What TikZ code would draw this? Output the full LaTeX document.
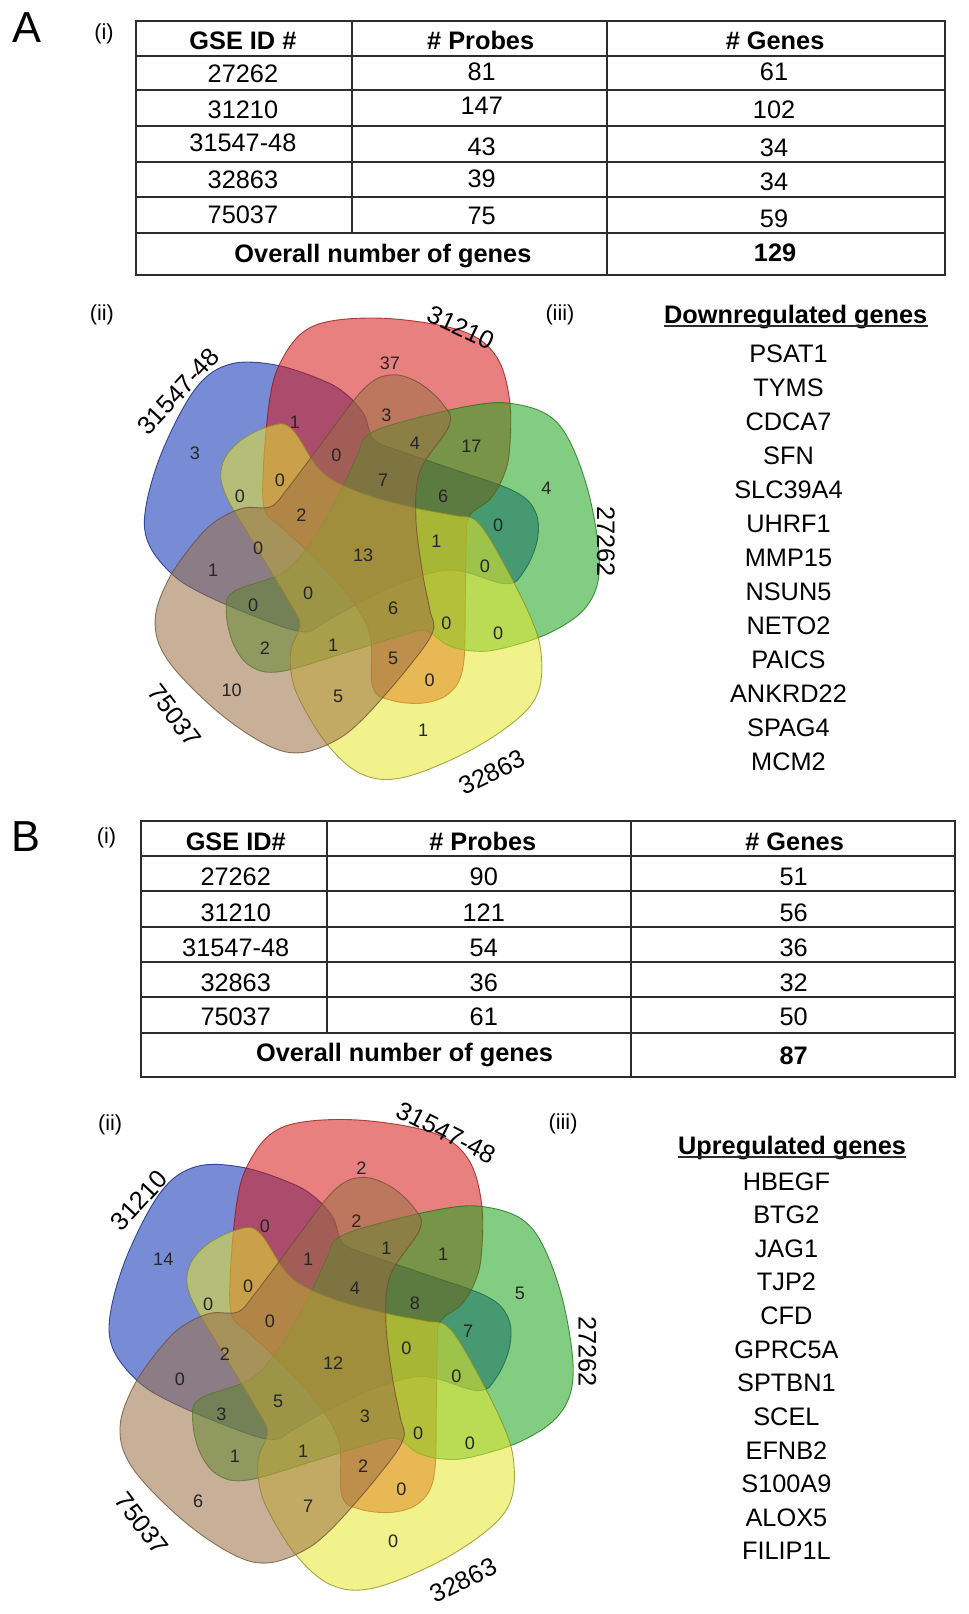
\documentclass[tikz,border=0pt]{standalone}
\usepackage{fontspec}
\setmainfont{Liberation Sans}
\usetikzlibrary{calc,positioning}

\definecolor{setred}{RGB}{213,24,24}
\definecolor{setblue}{RGB}{10,45,180}
\definecolor{setgreen}{RGB}{28,164,28}
\definecolor{setyellow}{RGB}{231,231,46}
\definecolor{setbrown}{RGB}{155,111,68}
\definecolor{rulegray}{RGB}{45,45,45}

\tikzset{
  cell/.style={inner sep=0pt, font=\fontsize{14}{16}\selectfont, text height=10pt, text depth=0pt},
  headcell/.style={cell, font=\fontsize{14}{16}\selectfont\bfseries},
  gene/.style={cell},
  genehead/.style={inner sep=0pt, font=\fontsize{14}{16}\selectfont\bfseries},
  cnt/.style={inner sep=0pt, font=\fontsize{10}{12}\selectfont, text height=7.2pt, text depth=0pt, text=black!85},
  setlabel/.style={cell},
  partlabel/.style={inner sep=0pt, font=\fontsize{12}{14}\selectfont},
  panellabel/.style={inner sep=0pt, font=\fontsize{24}{28}\selectfont, text height=17pt, text depth=0pt},
  tablerule/.style={draw=rulegray, line width=1.1pt},
  petal/.style={fill opacity=0.55, draw opacity=0.75, line width=0.5pt}
}

% one set of the five, lobe on top, arm down through the middle
\newcommand{\petalpath}{plot[smooth cycle, tension=0.6] coordinates {(92,-206) (124,-182) (137,-140) (137,-91) (131,-65) (118,-43) (98,-27) (95,-4) (94,55) (92,119) (79,145) (53,155) (21,152) (4,139) (1,87) (-22,48) (-58,9) (-86,-17) (-101,-33) (-102,-75) (-96,-140) (-86,-175) (-64,-205) (-31,-217) (27,-218)}}

\newcommand{\fivesets}[2]{%
  \begin{scope}[shift={#1}, scale=#2]
    \filldraw[petal, fill=setblue, draw=setblue!70!black, rotate=72] \petalpath;
    \filldraw[petal, fill=setred, draw=setred!70!black] \petalpath;
    \filldraw[petal, fill=setgreen, draw=setgreen!70!black, rotate=-72] \petalpath;
    \filldraw[petal, fill=setyellow, draw=setyellow!60!black, shift={(2,4)}, rotate=-148] \petalpath;
    \filldraw[petal, fill=setbrown, draw=setbrown!70!black, rotate=144] \petalpath;
  \end{scope}}

\begin{document}
\begin{tikzpicture}[x=0.02cm, y=-0.02cm]
  \useasboundingbox (0,0) rectangle (941,1568);

  % ---------------- panel A ----------------
  \node[panellabel] (A) at (26.5,26.5) {A};
  \node[partlabel] (Ai) at (101,33) {(i)};

  % table A
  \draw[tablerule] (132,20) rectangle (918,267);
  \foreach \y in {54,87,122,157,191,226}
    \draw[tablerule] (132,\y) -- (918,\y);
  \draw[tablerule] (342,20) -- (342,226);
  \draw[tablerule] (590,20) -- (590,267);

  \node[headcell] (ta-h1) at (236,39.5) {GSE ID \#};
  \node[headcell] (ta-h2) at (467,39.5) {\# Probes};
  \node[headcell] (ta-h3) at (753,39.5) {\# Genes};
  \foreach \id/\pr/\gn/\y/\yp/\yg [count=\i] in {27262/81/61/71/69/69,
      31210/147/102/106/102/106, 31547-48/43/34/138.6/142/143.5,
      32863/39/34/174/173/176, 75037/75/59/208.5/209.5/212} {
    \node[cell] (ta-id\i) at (236,\y) {\id};
    \node[cell] (ta-pr\i) at (468,\yp) {\pr};
    \node[cell] (ta-gn\i) at (752,\yg) {\gn};
  }
  \node[headcell] (ta-all) at (372,246) {Overall number of genes};
  \node[headcell] (ta-tot) at (753,245) {129};

  % venn A
  \node[partlabel] (Aii) at (99,306) {(ii)};
  \node[partlabel] (Aiii) at (544,306) {(iii)};
  \fivesets{(358,528)}{1}
  \node[setlabel, rotate=-25] (la-31210) at (448,318) {31210};
  \node[setlabel, rotate=47] (la-31547) at (173,380) {31547-48};
  \node[setlabel, rotate=-90] (la-27262) at (589,526) {27262};
  \node[setlabel, rotate=-53] (la-75037) at (170,695) {75037};
  \node[setlabel, rotate=26] (la-32863) at (478,750) {32863};
  \foreach \x/\y/\t [count=\i] in {378.7/352.8/37, 375.5/403/3, 286.4/409.5/1,
      189.3/440.2/3, 326.9/441.8/0, 403/430.5/4, 458/433.7/17, 271.9/466.1/0,
      233/482.3/0, 372.2/466.1/7, 430.5/482.3/6, 530.8/474.2/4, 292.9/500.1/2,
      483.9/509.8/0, 250.8/532.5/0, 352.8/539/13, 424/526/1, 207.1/553.5/1,
      471/550.3/0, 299.4/576.2/0, 246/587.5/0, 382/590.7/6, 433.7/605.3/0,
      483.9/615/0, 257.3/629.6/2, 323.7/626.3/1, 382/639.3/5, 417.5/660.3/0,
      225/670/10, 328.5/676.5/5, 411/708.9/1}
    \node[cnt] (va\i) at (\x,\y) {\t};

  % gene list A
  \node[genehead] (dn-head) at (773,307.5) {Downregulated genes};
  \draw[line width=1.2pt, draw=rulegray] ($(dn-head.base west)+(0,3)$) -- ($(dn-head.base east)+(0,3)$);
  \foreach \g [count=\i] in {PSAT1, TYMS, CDCA7, SFN, SLC39A4, UHRF1, MMP15,
      NSUN5, NETO2, PAICS, ANKRD22, SPAG4, MCM2}
    \node[gene] (dn\i) at (766,{343+(\i-1)*33.05}) {\g};

  % ---------------- panel B ----------------
  \node[panellabel] (B) at (25.5,812.5) {B};
  \node[partlabel] (Bi) at (103.5,814) {(i)};

  % table B
  \draw[tablerule] (137,798) rectangle (928,1046);
  \foreach \y in {831.5,866,901,935,969,1004}
    \draw[tablerule] (137,\y) -- (928,\y);
  \draw[tablerule] (318,798) -- (318,1004);
  \draw[tablerule] (613,798) -- (613,1046);

  \node[headcell] (tb-h1) at (229,817.5) {GSE ID\#};
  \node[headcell] (tb-h2) at (469,817.5) {\# Probes};
  \node[headcell] (tb-h3) at (772,817.5) {\# Genes};
  \foreach \id/\pr/\gn/\y [count=\i] in {27262/90/51/851, 31210/121/56/886,
      31547-48/54/36/920, 32863/36/32/954, 75037/61/50/987.5} {
    \node[cell] (tb-id\i) at (229,\y) {\id};
    \node[cell] (tb-pr\i) at (470,\y) {\pr};
    \node[cell] (tb-gn\i) at (771,\y) {\gn};
  }
  \node[headcell] (tb-all) at (393,1022) {Overall number of genes};
  \node[headcell] (tb-tot) at (771,1025.5) {87};

  % venn B
  \node[partlabel] (Bii) at (107,1093) {(ii)};
  \node[partlabel] (Biii) at (547,1092) {(iii)};
  \fivesets{(328,1311)}{1.02}
  \node[setlabel, rotate=-27] (lb-31547) at (434,1100) {31547-48};
  \node[setlabel, rotate=47] (lb-31210) at (135,1166) {31210};
  \node[setlabel, rotate=-90] (lb-27262) at (571,1313) {27262};
  \node[setlabel, rotate=-53] (lb-75037) at (138,1480) {75037};
  \node[setlabel, rotate=26] (lb-32863) at (450,1535) {32863};
  \foreach \x/\y/\t [count=\i] in {351.2/1134.5/2, 346.3/1186.2/2, 257.3/1191.1/0,
      158.6/1223.5/14, 299.4/1223.5/1, 375.5/1212.1/1, 430.5/1218.6/1,
      241.1/1249.4/0, 202.3/1267.2/0, 344.7/1251/4, 403/1265.6/8, 505/1255.8/5,
      262.2/1283.4/0, 454.8/1293.1/7, 394.9/1309.3/0, 218.5/1315.7/2,
      323.7/1323.8/12, 174.8/1340/0, 443.4/1336.8/0, 270.3/1361/5, 215.2/1374/3,
      354.4/1375.6/3, 406.2/1391.8/0, 456.4/1401.5/0, 228.2/1414.5/1,
      294.5/1409.6/1, 352.8/1424.2/2, 390/1446.8/0, 192.6/1458.2/6,
      299.4/1463/7, 382/1497/0}
    \node[cnt] (vb\i) at (\x,\y) {\t};

  % gene list B
  \node[genehead] (up-head) at (769.5,1115) {Upregulated genes};
  \draw[line width=1.2pt, draw=rulegray] ($(up-head.base west)+(0,3)$) -- ($(up-head.base east)+(0,3)$);
  \foreach \g [count=\i] in {HBEGF, BTG2, JAG1, TJP2, CFD, GPRC5A, SPTBN1,
      SCEL, EFNB2, S100A9, ALOX5, FILIP1L}
    \node[gene] (up\i) at (764,{1147.4+(\i-1)*32.66}) {\g};
\end{tikzpicture}
\end{document}
